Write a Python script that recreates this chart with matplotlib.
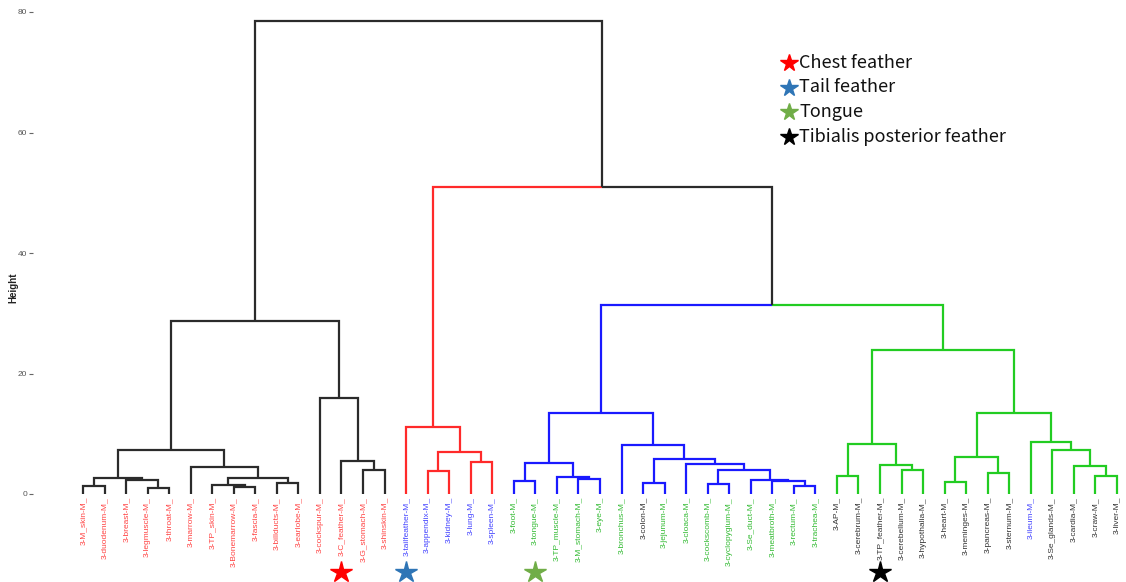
import numpy as np
import matplotlib.pyplot as plt

# leaf labels in dendrogram order
leaves = ["3-M_skin-M_", "3-duodenum-M_", "3-breast-M_", "3-legmuscle-M_", "3-throat-M_",
          "3-marrow-M_", "3-TP_skin-M_", "3-Bonemarrow-M_", "3-fascia-M_", "3-billducts-M_",
          "3-earlobe-M_", "3-cockspur-M_", "3-C_feather-M_", "3-G_stomach-M_", "3-shinskin-M_",
          "3-tailfeather-M_", "3-appendix-M_", "3-kidney-M_", "3-lung-M_", "3-spleen-M_",
          "3-foot-M_", "3-tongue-M_", "3-TP_muscle-M_", "3-M_stomach-M_", "3-eye-M_",
          "3-bronchus-M_", "3-colon-M_", "3-jejunum-M_", "3-cloaca-M_", "3-cockscomb-M_",
          "3-cyclopygium-M_", "3-Se_duct-M_", "3-meatbroth-M_", "3-rectum-M_", "3-trachea-M_",
          "3-AP-M_", "3-cerebrum-M_", "3-TP_feather-M_", "3-cerebellum-M_", "3-hypothalia-M_",
          "3-heart-M_", "3-meninges-M_", "3-pancreas-M_", "3-sternum-M_", "3-ileum-M_",
          "3-Se_glands-M_", "3-cardia-M_", "3-craw-M_", "3-liver-M_"]

# label text group: r=red, b=blue, g=green, k=black
label_groups = list("rrrrrrrrrrrrrrr" + "bbbbb" + "gggggg" + "k" + "gggggggg"
                    + "kkkkkkkkk" + "b" + "kkkk")

# branch cluster of each leaf (cut into 4 groups)
branch_groups = list("k" * 15 + "r" * 5 + "b" * 15 + "g" * 14)

# merges: (left id, right id, height); leaves are 0..48, merge i gets id 49+i
merges = [
    (0, 1, 1.33), (3, 4, 1.05), (2, 50, 2.27), (49, 51, 2.71),
    (7, 8, 1.1), (6, 53, 1.44), (9, 10, 1.88), (54, 55, 2.6),
    (5, 56, 4.43), (52, 57, 7.3), (13, 14, 4.04), (12, 59, 5.42),
    (11, 60, 15.88), (58, 61, 28.7),
    (16, 17, 3.82), (18, 19, 5.26), (63, 64, 7.02), (15, 65, 11.17),
    (20, 21, 2.16), (23, 24, 2.49), (22, 68, 2.77), (67, 69, 5.2),
    (26, 27, 1.88), (29, 30, 1.66), (33, 34, 1.33), (32, 73, 2.16),
    (31, 74, 2.32), (72, 75, 4.04), (28, 76, 5.03), (71, 77, 5.76),
    (25, 78, 8.13), (70, 79, 13.39),
    (35, 36, 3.04), (38, 39, 3.98), (37, 82, 4.81), (81, 83, 8.24),
    (40, 41, 1.93), (42, 43, 3.48), (85, 86, 6.14), (47, 48, 2.99),
    (46, 88, 4.6), (45, 89, 7.3), (44, 90, 8.69), (87, 91, 13.39),
    (84, 92, 23.9),
    (80, 93, 31.3), (66, 94, 51.0), (62, 95, 78.56),
]

# starred leaves and legend
star_leaves = ["3-C_feather-M_", "3-tailfeather-M_", "3-tongue-M_", "3-TP_feather-M_"]
legend_labels = ["Chest feather", "Tail feather", "Tongue", "Tibialis posterior feather"]
star_colors = ["#ff0000", "#2e75b6", "#70ad47", "#000000"]

branch_col = {"k": "#2b2b2b", "r": "#ff2a2a", "b": "#1a1aff", "g": "#22cc22"}
label_col = {"k": "#333333", "r": "#ff4444", "b": "#4444ff", "g": "#33bb33"}

n = len(leaves)
xpos = {i: i + 1.0 for i in range(n)}
hpos = {i: 0.0 for i in range(n)}
ncol = {i: branch_groups[i] for i in range(n)}
for k, (a, b, h) in enumerate(merges):
    nid = n + k
    xpos[nid] = (xpos[a] + xpos[b]) / 2
    hpos[nid] = h
    ncol[nid] = ncol[a] if ncol[a] == ncol[b] else "k"

fig = plt.figure(figsize=(11.26, 5.82), dpi=100)
W, H = 1126, 582
ax = fig.add_axes([33 / W, (H - 494) / H, (W - 33) / W, (494 - 12) / H])

for k, (a, b, h) in enumerate(merges):
    nid = n + k
    for c in (a, b):
        ax.plot([xpos[c], xpos[c], xpos[nid]], [hpos[c], h, h],
                color=branch_col[ncol[c]], lw=1.6, clip_on=False,
                solid_joinstyle="miter", solid_capstyle="butt")

for i, name in enumerate(leaves):
    ax.text(xpos[i], -0.5, name, rotation=90, ha="center", va="top",
            fontsize=6, family="Liberation Sans", color=label_col[label_groups[i]])

for name, col in zip(star_leaves, star_colors):
    i = leaves.index(name)
    ax.plot(xpos[i], -12.9, marker="*", ms=16, color=col, clip_on=False)

ax.set_xlim(1 - 50 / 21.54, 1 + (W - 83) / 21.54)
ax.set_ylim(0, 80)
ax.set_yticks([0, 20, 40, 60, 80])
ax.set_xticks([])
for s in ax.spines.values():
    s.set_visible(False)
ax.tick_params(axis="y", length=3, width=0.8, color="#666666", labelsize=6,
               labelcolor="#555555", pad=1)
for t in ax.get_yticklabels():
    t.set_family("Liberation Sans")

fig.text(13 / W, 1 - 288 / H, "Height", rotation=90, ha="center", va="center",
         fontsize=7, fontweight="bold", family="Liberation Sans", color="#222222")

# legend with stars
for j, (lab, col) in enumerate(zip(legend_labels, star_colors)):
    yy = 1 - (63 + j * 24.5) / H
    fig.lines.append(plt.Line2D([789 / W], [yy], marker="*", ms=13, color=col,
                                transform=fig.transFigure))
    fig.text(799 / W, yy, lab, ha="left", va="center", fontsize=13,
             family=["Noto Sans CJK KR", "DejaVu Sans"], color="#111111")

fig.savefig("out.png", dpi=100)
